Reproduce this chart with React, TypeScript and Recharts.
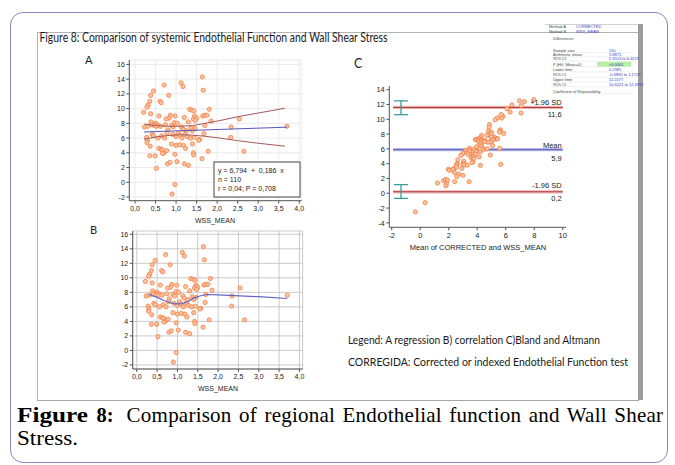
import React from 'react';
import { ScatterChart, Scatter, XAxis, YAxis, CartesianGrid, ReferenceLine, ErrorBar } from 'recharts';

// Panel A / B data: WSS_MEAN (x) vs CORRECTED (y)
const wssMean = [
  0.71, 1.12, 1.17, 1.64, 1.66, 0.45, 0.38, 0.82, 0.61, 0.64,
  0.36, 0.32, 0.29, 0.21, 0.38, 0.58, 0.86, 0.98, 1.33, 1.38,
  1.43, 1.81, 1.45, 1.65, 1.70, 1.75, 0.83, 0.76, 1.20, 1.42,
  1.50, 1.47, 1.85, 2.54, 0.39, 0.50, 0.96, 0.55, 1.30, 0.23,
  0.31, 0.41, 0.47, 0.52, 0.62, 0.74, 0.89, 0.93, 1.03, 1.13,
  1.25, 1.36, 1.46, 1.70, 2.34, 3.70, 0.80, 1.17, 1.40, 0.28,
  0.30, 0.42, 0.45, 0.56, 0.65, 0.72, 0.78, 0.92, 1.00, 1.05,
  1.09, 1.14, 1.22, 1.27, 1.35, 1.44, 1.57, 1.68, 2.33, 0.29,
  0.37, 0.58, 0.64, 0.66, 0.70, 0.77, 0.89, 1.00, 1.09, 1.18,
  1.23, 1.40, 1.42, 1.43, 1.55, 1.78, 2.65, 0.36, 0.49, 0.67,
  0.52, 0.79, 0.85, 1.02, 1.20, 1.30, 1.63, 0.97, 0.90, 0.97,
];
const corrected = [
  13.2, 13.5, 13.0, 14.3, 12.5, 12.4, 11.8, 11.8, 11.0, 10.8,
  11.0, 10.5, 10.2, 9.5, 9.3, 9.0, 9.1, 9.0, 9.9, 9.8,
  9.7, 9.9, 9.0, 9.0, 9.1, 9.1, 8.7, 8.6, 8.8, 8.6,
  8.7, 8.4, 8.3, 8.6, 8.2, 8.0, 8.1, 7.8, 8.2, 7.5,
  7.6, 7.8, 7.7, 7.6, 7.6, 7.8, 7.7, 7.5, 8.0, 7.5,
  7.0, 7.4, 7.3, 7.7, 7.5, 7.6, 7.1, 7.2, 7.0, 6.1,
  5.7, 6.5, 6.3, 6.0, 6.3, 6.0, 6.7, 6.5, 6.2, 6.7,
  6.4, 6.0, 6.5, 6.2, 6.0, 6.1, 5.8, 6.6, 6.1, 5.4,
  4.9, 4.6, 4.5, 4.4, 4.0, 4.3, 5.2, 5.0, 5.1, 5.0,
  4.6, 5.2, 4.0, 3.7, 5.7, 4.2, 4.2, 3.6, 3.6, 3.9,
  1.9, 2.5, 2.7, 2.8, 2.5, 2.3, 3.2, 3.8, -1.6, -0.3,
];

// Panel C data: Bland-Altman mean vs difference
const baMean = [
  6.96, 7.31, 7.09, 7.97, 7.08, 6.43, 6.09, 6.31, 5.81, 5.72,
  5.68, 5.41, 5.25, 4.86, 4.84, 4.79, 4.98, 4.99, 5.62, 5.59,
  5.57, 5.86, 5.23, 5.33, 5.40, 5.43, 4.77, 4.68, 5.00, 5.01,
  5.10, 4.94, 5.08, 5.57, 4.30, 4.25, 4.53, 4.18, 4.75, 3.87,
  3.96, 4.11, 4.09, 4.06, 4.11, 4.27, 4.30, 4.22, 4.52, 4.32,
  4.13, 4.38, 4.38, 4.70, 4.92, 5.65, 3.95, 4.19, 4.20, 3.19,
  3.00, 3.46, 3.38, 3.28, 3.48, 3.36, 3.74, 3.71, 3.60, 3.88,
  3.75, 3.57, 3.86, 3.74, 3.68, 3.77, 3.69, 4.14, 4.22, 2.85,
  2.64, 2.59, 2.57, 2.53, 2.35, 2.54, 3.05, 3.00, 3.10, 3.09,
  2.92, 3.30, 2.71, 2.57, 3.63, 2.99, 3.43, 1.98, 2.05, 2.29,
  1.21, 1.65, 1.78, 1.91, 1.85, 1.80, 2.42, 2.39, -0.35, 0.34,
];
const baDiff = [
  12.49, 12.38, 11.83, 12.66, 10.84, 11.95, 11.42, 10.98, 10.39, 10.16,
  10.64, 10.18, 9.91, 9.29, 8.92, 8.42, 8.24, 8.02, 8.57, 8.42,
  8.27, 8.09, 7.55, 7.35, 7.40, 7.35, 7.87, 7.84, 7.60, 7.18,
  7.20, 6.93, 6.45, 6.06, 7.81, 7.50, 7.14, 7.25, 6.90, 7.27,
  7.29, 7.39, 7.23, 7.08, 6.98, 7.06, 6.81, 6.57, 6.97, 6.37,
  5.75, 6.04, 5.84, 6.00, 5.16, 3.90, 6.30, 6.03, 5.60, 5.82,
  5.40, 6.08, 5.85, 5.44, 5.65, 5.28, 5.92, 5.58, 5.20, 5.65,
  5.31, 4.86, 5.28, 4.93, 4.65, 4.66, 4.23, 4.92, 3.77, 5.11,
  4.53, 4.02, 3.86, 3.74, 3.30, 3.53, 4.31, 4.00, 4.01, 3.82,
  3.37, 3.80, 2.58, 2.27, 4.15, 2.42, 1.55, 3.24, 3.11, 3.23,
  1.38, 1.71, 1.85, 1.78, 1.30, 1.00, 1.57, 2.83, -2.50, -1.27,
];

// Regression line and its 95% confidence curves (panel A)
const regX = [0.22, 3.70];
const regY = [6.83, 7.48];
const ciX = [0.22, 0.5, 0.8, 1.1, 1.4, 1.7, 2.0, 2.5, 3.0, 3.65];
const ciUpperY = [7.9, 7.7, 7.6, 7.6, 7.7, 8.0, 8.3, 8.9, 9.4, 10.05];
const ciLowerY = [5.85, 6.15, 6.35, 6.45, 6.4, 6.25, 6.05, 5.65, 5.3, 4.9];

// Smoothed line (panel B)
const loessX = [0.29, 0.5, 0.7, 0.9, 1.0, 1.1, 1.25, 1.4, 1.55, 1.72, 2.0, 2.4, 3.0, 3.7];
const loessY = [7.7, 7.3, 6.8, 6.45, 6.4, 6.45, 6.7, 7.2, 7.5, 7.7, 7.65, 7.55, 7.4, 7.15];

// Bland-Altman limits (panel C)
const limitUpper = 11.6;
const limitMean = 5.9;
const limitLower = 0.2;
const limitSpan = [-1.9, 10];
const ciBarX = -1.35;
const upperLimitCI = [10.62, 12.49];
const lowerLimitCI = [-0.69, 1.17];

// Ticks
const xTicksAB = [0, 0.5, 1, 1.5, 2, 2.5, 3, 3.5, 4];
const yTicksAB = [-2, 0, 2, 4, 6, 8, 10, 12, 14, 16];
const xTicksC = [-2, 0, 2, 4, 6, 8, 10];
const yTicksC = [-4, -2, 0, 2, 4, 6, 8, 10, 12, 14];

// Statistics table
const tableRows: [string, string, number, boolean][] = [
  ['Method A', 'CORRECTED', 26, false],
  ['Method B', 'WSS_MEAN', 31, false],
  ['Differences', '', 38.5, false],
  ['Sample size', '110', 50, false],
  ['Arithmetic mean', '5.8871', 54.4, false],
  ['95% CI', '5.3513 to 6.4229', 58.9, false],
  ['P (H0: Mean=0)', '<0.0001', 64.2, true],
  ['Lower limit', '0.2385', 69.4, false],
  ['95% CI', '-0.6890 to 1.1729', 74.8, false],
  ['Upper limit', '11.5577', 79.6, false],
  ['95% CI', '10.6221 to 12.4932', 84.3, false],
  ['Coefficient of Repeatability', '', 91.3, false],
];

const pointsAB = wssMean.map((x, i) => ({ x, y: corrected[i] }));
const pointsC = baMean.map((x, i) => ({ x, y: baDiff[i] }));
const regLine = regX.map((x, i) => ({ x, y: regY[i] }));
const ciUpper = ciX.map((x, i) => ({ x, y: ciUpperY[i] }));
const ciLower = ciX.map((x, i) => ({ x, y: ciLowerY[i] }));
const loess = loessX.map((x, i) => ({ x, y: loessY[i] }));
const ciBars = [
  { x: ciBarX, y: (upperLimitCI[0] + upperLimitCI[1]) / 2, err: (upperLimitCI[1] - upperLimitCI[0]) / 2 },
  { x: ciBarX, y: (lowerLimitCI[0] + lowerLimitCI[1]) / 2, err: (lowerLimitCI[1] - lowerLimitCI[0]) / 2 },
];

const chartFont = "'Liberation Sans', Arial, sans-serif";
const calFont = "Lato, 'Open Sans', sans-serif";
const serif = "'Liberation Serif', 'Times New Roman', serif";
const fmt1 = (v: number) => v.toFixed(1).replace('.', ',');
const tickAB = { fontSize: 7, fill: '#222', stroke: 'none', fontFamily: chartFont };
const tickC = { fontSize: 7.5, fill: '#222', stroke: 'none', fontFamily: chartFont };
const axisStroke = { stroke: '#555', strokeWidth: 1 };

const Dot = (p: any) => (
  <circle cx={p.cx} cy={p.cy} r={2.1} fill="#fcc3a2" stroke="#f47d40" strokeWidth={0.8} />
);
const NoDot = () => <g />;

const abs: React.CSSProperties = { position: 'absolute', left: 0, top: 0 };

function PanelA() {
  return (
    <div style={abs}>
      <ScatterChart width={675} height={465} margin={{ top: 60, right: 373.3, bottom: 234.3, left: 89.3 }}>
        <CartesianGrid stroke="#e6e6e6" strokeWidth={0.8} />
        <XAxis type="number" dataKey="x" domain={[-0.14, 4.06]} ticks={xTicksAB} interval={0}
          tickFormatter={fmt1} height={30} tick={tickAB} tickSize={3} tickMargin={2}
          axisLine={axisStroke} tickLine={axisStroke} allowDataOverflow />
        <YAxis type="number" dataKey="y" domain={[-2.5, 16.6]} ticks={yTicksAB} interval={0}
          width={40} tick={tickAB} tickSize={3} tickMargin={1.5}
          axisLine={axisStroke} tickLine={axisStroke} allowDataOverflow />
        <Scatter data={pointsAB} shape={Dot} isAnimationActive={false} />
        <Scatter data={ciUpper} shape={NoDot} line={{ stroke: '#a45a5a', strokeWidth: 1 }} isAnimationActive={false} />
        <Scatter data={ciLower} shape={NoDot} line={{ stroke: '#a45a5a', strokeWidth: 1 }} isAnimationActive={false} />
        <Scatter data={regLine} shape={NoDot} line={{ stroke: '#5555bb', strokeWidth: 1 }} isAnimationActive={false} />
      </ScatterChart>
    </div>
  );
}

function PanelB() {
  return (
    <div style={abs}>
      <ScatterChart width={675} height={465} margin={{ top: 231, right: 372.3, bottom: 66, left: 92.7 }}>
        <CartesianGrid stroke="#c4c4c4" strokeWidth={0.9} />
        <XAxis type="number" dataKey="x" domain={[-0.1, 4.08]} ticks={xTicksAB} interval={0}
          tickFormatter={fmt1} height={30} tick={tickAB} tickSize={3} tickMargin={2}
          axisLine={axisStroke} tickLine={axisStroke} allowDataOverflow />
        <YAxis type="number" dataKey="y" domain={[-2.56, 16.45]} ticks={yTicksAB} interval={0}
          width={40} tick={tickAB} tickSize={3} tickMargin={1.5}
          axisLine={axisStroke} tickLine={axisStroke} allowDataOverflow />
        <Scatter data={pointsAB} shape={Dot} isAnimationActive={false} />
        <Scatter data={loess} shape={NoDot} line={{ stroke: '#6464c4', strokeWidth: 1.2 }} isAnimationActive={false} />
      </ScatterChart>
    </div>
  );
}

function PanelC() {
  const seg = (v: number) => [{ x: limitSpan[0], y: v }, { x: limitSpan[1], y: v }];
  return (
    <div style={abs}>
      <ScatterChart width={675} height={465} margin={{ top: 86, right: 109, bottom: 207.7, left: 349.3 }}>
        <XAxis type="number" dataKey="x" domain={[-2.17, 10.23]} ticks={xTicksC} interval={0}
          height={30} tick={tickC} tickSize={3} tickMargin={2}
          axisLine={axisStroke} tickLine={axisStroke} allowDataOverflow />
        <YAxis type="number" dataKey="y" domain={[-4.6, 14.5]} ticks={yTicksC} interval={0}
          width={40} tick={tickC} tickSize={3} tickMargin={1.5}
          axisLine={axisStroke} tickLine={axisStroke} allowDataOverflow />
        <ReferenceLine segment={seg(limitUpper)} stroke="#eab0b0" strokeWidth={3.2} />
        <ReferenceLine segment={seg(limitUpper)} stroke="#b03c3c" strokeWidth={1.1} />
        <ReferenceLine segment={seg(limitMean)} stroke="#babae8" strokeWidth={3.2} />
        <ReferenceLine segment={seg(limitMean)} stroke="#6a6ac4" strokeWidth={1.1} />
        <ReferenceLine segment={seg(limitLower)} stroke="#eab0b0" strokeWidth={3.2} />
        <ReferenceLine segment={seg(limitLower)} stroke="#b03c3c" strokeWidth={1.1} />
        <Scatter data={ciBars} shape={NoDot} isAnimationActive={false}>
          <ErrorBar dataKey="err" direction="y" width={7} stroke="#3a9e9e" strokeWidth={1.3} />
        </Scatter>
        <Scatter data={pointsC} shape={Dot} isAnimationActive={false} />
      </ScatterChart>
    </div>
  );
}

function Overlay() {
  const t = { fontFamily: chartFont, fill: '#222' };
  return (
    <svg width={675} height={465} style={{ ...abs, pointerEvents: 'none' }}>
      <text x={39.5} y={41.6} fontFamily={calFont} fontSize={12.5} fill="#1a1a1a" textLength={348} lengthAdjust="spacingAndGlyphs">
        Figure 8: Comparison of systemic Endothelial Function and Wall Shear Stress
      </text>
      <text x={85} y={64} fontFamily={calFont} fontSize={11} fill="#222">A</text>
      <text x={90} y={234} fontFamily={calFont} fontSize={11} fill="#222">B</text>
      <text x={354} y={67.5} fontFamily={calFont} fontSize={12.5} fill="#222">C</text>

      <text x={215} y={223.2} fontSize={7} textAnchor="middle" {...t}>WSS_MEAN</text>
      <text x={218} y={391} fontSize={7} textAnchor="middle" {...t}>WSS_MEAN</text>
      <text x={478} y={250.4} fontSize={7.5} textAnchor="middle" {...t}>Mean of CORRECTED and WSS_MEAN</text>

      <rect x={214} y={162} width={86} height={35} fill="#fff" stroke="#444" strokeWidth={1} />
      <text x={218} y={172.5} fontSize={7} style={{ whiteSpace: 'pre' }} {...t}>{'y = 6,794  +  0,186  x'}</text>
      <text x={218} y={181.6} fontSize={7} {...t}>n = 110</text>
      <text x={218} y={191.2} fontSize={7} {...t}>r = 0,04; P = 0,708</text>

      <text x={561.7} y={105} fontSize={7.5} textAnchor="end" {...t}>+1.96 SD</text>
      <text x={561.7} y={116.7} fontSize={7.5} textAnchor="end" {...t}>11,6</text>
      <text x={561.7} y={147.7} fontSize={7.5} textAnchor="end" {...t}>Mean</text>
      <text x={561.7} y={161} fontSize={7.5} textAnchor="end" {...t}>5,9</text>
      <text x={561.7} y={188.4} fontSize={7.5} textAnchor="end" {...t}>-1.96 SD</text>
      <text x={561.7} y={201} fontSize={7.5} textAnchor="end" {...t}>0,2</text>

      {tableRows.map(([label, value, y, hi], i) => (
        <g key={i}>
          {i > 2 && <line x1={551} x2={634} y1={y + 2.4} y2={y + 2.4} stroke="#e2e2e2" strokeWidth={0.5} />}
          {hi && <rect x={597} y={y - 2.5} width={34} height={5} fill="#b6f0a6" />}
          <text x={i < 2 ? 549 : 553} y={y + 1.5} fontSize={4} fontFamily={chartFont} fill="#444">{label}</text>
          {value && (
            <text x={i < 2 ? 576 : 609} y={y + 1.5} fontSize={4} fontFamily={chartFont} fill="#3b3bc4">{value}</text>
          )}
        </g>
      ))}

      <text x={348} y={344} fontFamily={calFont} fontSize={10.5} fill="#1a1a1a" textLength={252} lengthAdjust="spacingAndGlyphs">
        Legend: A regression B) correlation C)Bland and Altmann
      </text>
      <text x={348} y={366.3} fontFamily={calFont} fontSize={10.5} fill="#1a1a1a" textLength={280} lengthAdjust="spacingAndGlyphs">
        CORREGIDA: Corrected or indexed Endothelial Function test
      </text>

      <text x={17} y={421.6} fontFamily={serif} fontSize={21} fontWeight="bold" fill="#000" textLength={71} lengthAdjust="spacingAndGlyphs">Figure</text>
      <text x={96.6} y={421.6} fontFamily={serif} fontSize={21} fontWeight="bold" fill="#000" textLength={17} lengthAdjust="spacingAndGlyphs">8:</text>
      <text x={126.6} y={421.6} fontFamily={serif} fontSize={21} fill="#000" textLength={536.4} lengthAdjust="spacing" style={{ wordSpacing: 2 }}>
        Comparison of regional Endothelial function and Wall Shear
      </text>
      <text x={17} y={445} fontFamily={serif} fontSize={21} fill="#000" textLength={61} lengthAdjust="spacingAndGlyphs">Stress.</text>
    </svg>
  );
}

export default function App() {
  return (
    <div style={{ position: 'absolute', left: 0, top: 0, width: 675, height: 465, background: '#fff', overflow: 'hidden' }}>
      <div style={{ position: 'absolute', left: 10, top: 12, width: 656, height: 449, border: '1.5px solid #8a87c2', borderRadius: 13 }} />
      <div style={{ position: 'absolute', left: 37, top: 32, width: 601, height: 367, borderLeft: '1px solid #b4b4b4', borderTop: '1px solid #b4b4b4', borderBottom: '1px solid #a8a8a8' }} />
      <div style={{ position: 'absolute', left: 638, top: 24, width: 5, height: 376, background: '#9c9c9c' }} />
      <div style={{ position: 'absolute', left: 545, top: 24, width: 93, height: 1, background: '#d0d0d0' }} />
      <PanelA />
      <PanelB />
      <PanelC />
      <Overlay />
    </div>
  );
}
